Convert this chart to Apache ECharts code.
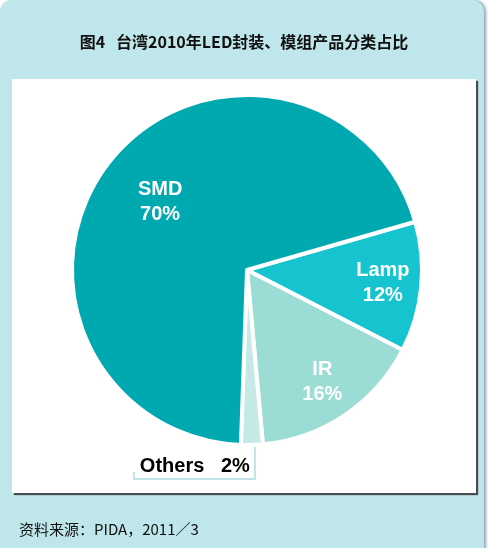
<!DOCTYPE html>
<html>
<head>
<meta charset="utf-8">
<script src="https://cdn.jsdelivr.net/npm/echarts@6/dist/echarts.min.js"></script>
<style>
html,body{margin:0;padding:0;background:#ffffff;}
#main{width:488px;height:548px;}
</style>
</head>
<body>
<div id="main"></div>
<script>
var titleText = '图4   台湾2010年LED封装、模组产品分类占比';
var sourceText = '资料来源：PIDA，2011／3';
var categories = ['Lamp', 'IR', 'Others', 'SMD'];
var values = [12, 16, 2, 70];
var sliceColors = ['#16c4cf', '#9bdcd5', '#c5e9e5', '#00a8b0'];
var labelRadiusRatio = [0.78, 0.77, 0, 0.63];

var CX = 247, CY = 270, R = 175, START = 16;
var total = values.reduce(function (a, b) { return a + b; }, 0);
var midAngles = [];
(function () {
  var acc = START;
  for (var i = 0; i < values.length; i++) {
    var span = values[i] / total * 360;
    midAngles.push(acc - span / 2);
    acc -= span;
  }
})();

var chart = echarts.init(document.getElementById('main'), null, {renderer: 'canvas'});
var option = {
  backgroundColor: 'transparent',
  animation: false,
  graphic: [
    {type: 'rect', z: -10, shape: {x: 0, y: 0, width: 484, height: 570, r: 12},
     style: {fill: '#bfe6eb', shadowColor: 'rgba(90,130,135,0.7)', shadowBlur: 3, shadowOffsetX: 2}},
    {type: 'rect', z: -9, shape: {x: 12, y: 79, width: 464, height: 414},
     style: {fill: '#ffffff', shadowColor: 'rgba(60,60,60,0.9)', shadowBlur: 1, shadowOffsetX: 2, shadowOffsetY: 2}},
    {type: 'text', z: 5, left: 'center', top: 34,
     style: {text: titleText, font: 'bold 16px "Noto Sans CJK SC", sans-serif', fill: '#111'}},
    {type: 'text', z: 5, left: 19, top: 522,
     style: {text: sourceText, font: '15px "Noto Sans CJK SC", sans-serif', fill: '#111'}}
  ],
  series: [{
    type: 'pie',
    center: [CX, CY],
    radius: [0, R],
    startAngle: START,
    clockwise: true,
    avoidLabelOverlap: false,
    silent: true,
    itemStyle: {borderColor: '#ffffff', borderWidth: 4},
    label: {
      show: true,
      position: 'inside',
      formatter: function (p) { return p.name + '\n' + p.value + '%'; },
      color: '#ffffff',
      fontSize: 20,
      fontWeight: 'bold',
      fontFamily: '"Liberation Sans", Arial, sans-serif',
      lineHeight: 25
    },
    labelLine: {show: false},
    data: categories.map(function (c, i) {
      var d = {name: c, value: values[i], itemStyle: {color: sliceColors[i]}};
      if (c === 'Others') {
        d.label = {position: 'outside', color: '#000', formatter: function (p) { return p.name + '   ' + p.value + '%'; }, lineHeight: 22};
        d.labelLine = {show: true, length: 30, length2: 10, lineStyle: {color: '#bfe3e8', width: 2}};
      }
      return d;
    }),
    labelLayout: function (params) {
      var i = params.dataIndex;
      if (categories[i] === 'Others') {
        var p0 = params.labelLinePoints ? params.labelLinePoints[0] : [CX + R * Math.cos(midAngles[i] * Math.PI / 180), CY - R * Math.sin(midAngles[i] * Math.PI / 180)];
        var w = params.labelRect.width;
        var bx = p0[0] + 3, by = p0[1] + 34;
        var lx = bx - 5;
        return {
          x: lx, y: by - 12, align: 'right', verticalAlign: 'middle',
          labelLinePoints: [[bx, p0[1] - 2], [bx, by], [lx - w - 6, by], [lx - w - 6, by - 7]]
        };
      }
      var a = midAngles[i] * Math.PI / 180;
      var rr = R * labelRadiusRatio[i];
      return {x: CX + rr * Math.cos(a), y: CY - rr * Math.sin(a), align: 'center', verticalAlign: 'middle'};
    }
  }]
};
chart.setOption(option);
</script>
</body>
</html>
